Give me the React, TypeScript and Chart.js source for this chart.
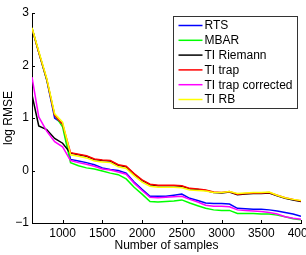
import { useEffect, useRef } from "react";
import { Chart, registerables } from "chart.js";

Chart.register(...registerables);

const samples = [615, 700, 800, 900, 1000, 1100, 1200, 1300, 1400, 1500, 1600, 1700, 1800, 1900, 2000, 2100, 2200, 2300, 2400, 2500, 2600, 2700, 2800, 2900, 3000, 3100, 3200, 3300, 3400, 3500, 3600, 3700, 3800, 3900, 4000];

const rts = [2.71, 2.25, 1.73, 1.0, 0.89, 0.21, 0.18, 0.15, 0.11, 0.05, 0.02, 0.0, -0.05, -0.22, -0.36, -0.49, -0.49, -0.49, -0.47, -0.45, -0.53, -0.57, -0.62, -0.63, -0.63, -0.64, -0.72, -0.73, -0.74, -0.74, -0.75, -0.77, -0.8, -0.83, -0.87];
const mbar = [2.71, 2.25, 1.73, 1.06, 0.83, 0.15, 0.09, 0.05, 0.03, -0.01, -0.05, -0.08, -0.16, -0.32, -0.45, -0.59, -0.6, -0.59, -0.58, -0.56, -0.62, -0.67, -0.72, -0.75, -0.76, -0.76, -0.82, -0.82, -0.82, -0.83, -0.83, -0.85, -0.88, -0.92, -0.94];
const tiRiemann = [1.44, 0.85, 0.78, 0.61, 0.52, 0.33, 0.3, 0.27, 0.21, 0.19, 0.18, 0.1, 0.07, -0.07, -0.19, -0.27, -0.29, -0.29, -0.29, -0.3, -0.35, -0.36, -0.38, -0.42, -0.43, -0.41, -0.46, -0.45, -0.44, -0.44, -0.43, -0.48, -0.53, -0.56, -0.59];
const tiTrap = [2.71, 2.25, 1.74, 1.05, 0.88, 0.34, 0.31, 0.28, 0.22, 0.2, 0.19, 0.11, 0.08, -0.06, -0.18, -0.26, -0.28, -0.28, -0.28, -0.29, -0.34, -0.35, -0.37, -0.41, -0.42, -0.4, -0.45, -0.44, -0.43, -0.43, -0.42, -0.47, -0.52, -0.55, -0.58];
const tiTrapCorrected = [1.78, 1.02, 0.75, 0.55, 0.45, 0.19, 0.15, 0.12, 0.08, 0.03, 0.01, -0.03, -0.07, -0.24, -0.38, -0.51, -0.52, -0.51, -0.5, -0.49, -0.55, -0.6, -0.66, -0.68, -0.68, -0.69, -0.75, -0.76, -0.77, -0.78, -0.8, -0.83, -0.88, -0.91, -0.93];
const tiRB = [2.72, 2.27, 1.76, 1.08, 0.92, 0.3, 0.27, 0.24, 0.18, 0.16, 0.15, 0.07, 0.04, -0.1, -0.22, -0.3, -0.32, -0.32, -0.32, -0.33, -0.37, -0.38, -0.39, -0.42, -0.42, -0.4, -0.44, -0.43, -0.42, -0.42, -0.41, -0.47, -0.52, -0.55, -0.57];

const seriesLabels = ["RTS", "MBAR", "TI Riemann", "TI trap", "TI trap corrected", "TI RB"];
const seriesValues = [rts, mbar, tiRiemann, tiTrap, tiTrapCorrected, tiRB];
const seriesColors = ["#0000ff", "#00ff00", "#000000", "#ff0000", "#ff00ff", "#ffff00"];

const xTicks = [1000, 1500, 2000, 2500, 3000, 3500, 4000];
const yTicks = [-1, 0, 1, 2, 3];
const xTitle = "Number of samples";
const yTitle = "log RMSE";

const FONT_FAMILY = "'Liberation Sans', Arial, Helvetica, sans-serif";

const inwardTicks = {
  id: "inwardTicks",
  afterDraw(chart: any) {
    const ctx = chart.ctx;
    const ca = chart.chartArea;
    const xs = chart.scales.x;
    const ys = chart.scales.y;
    ctx.save();
    ctx.strokeStyle = "#000";
    ctx.lineWidth = 1;
    ctx.beginPath();
    xs.ticks.forEach((t: any) => {
      const px = Math.round(xs.getPixelForValue(t.value)) + 0.5;
      ctx.moveTo(px, ca.bottom);
      ctx.lineTo(px, ca.bottom - 3);
    });
    ys.ticks.forEach((t: any) => {
      const py = Math.round(ys.getPixelForValue(t.value)) + 0.5;
      ctx.moveTo(ca.left, py);
      ctx.lineTo(ca.left + 3, py);
    });
    ctx.stroke();
    ctx.restore();
  },
};

const boxLegend = {
  id: "boxLegend",
  afterDraw(chart: any) {
    const ctx = chart.ctx;
    const ca = chart.chartArea;
    const w = 124;
    const h = 92;
    const x0 = Math.round(ca.right - 128) + 0.5;
    const y0 = Math.round(ca.top + 3) + 0.5;
    ctx.save();
    ctx.fillStyle = "#fff";
    ctx.fillRect(x0, y0, w, h);
    ctx.strokeStyle = "#333";
    ctx.lineWidth = 1;
    ctx.strokeRect(x0, y0, w, h);
    ctx.font = `12px ${FONT_FAMILY}`;
    ctx.textBaseline = "middle";
    ctx.textAlign = "left";
    chart.data.datasets.forEach((ds: any, i: number) => {
      const y = y0 + 9 + i * 14.8;
      ctx.strokeStyle = ds.borderColor;
      ctx.lineWidth = 1.5;
      ctx.beginPath();
      ctx.moveTo(x0 + 5, y);
      ctx.lineTo(x0 + 29, y);
      ctx.stroke();
      ctx.fillStyle = "#000";
      ctx.fillText(ds.label, x0 + 31, y + 0.5);
    });
    ctx.restore();
  },
};

export default function App() {
  const canvasRef = useRef<HTMLCanvasElement | null>(null);

  useEffect(() => {
    if (!canvasRef.current) return;
    const chart = new Chart(canvasRef.current, {
      type: "line",
      data: {
        datasets: seriesLabels.map((label, i) => ({
          label,
          data: samples.map((s, j) => ({ x: s, y: seriesValues[i][j] })),
          borderColor: seriesColors[i],
          backgroundColor: seriesColors[i],
          borderWidth: 1.5,
          pointRadius: 0,
          tension: 0,
          fill: false,
          order: seriesLabels.length - i,
        })),
      },
      options: {
        responsive: false,
        animation: false,
        devicePixelRatio: 1,
        layout: { padding: { left: 0, top: 13, right: 29, bottom: 0 } },
        plugins: {
          legend: { display: false },
          tooltip: { enabled: false },
        },
        scales: {
          x: {
            type: "linear",
            min: 615,
            max: 4000,
            afterBuildTicks: (scale: any) => {
              scale.ticks = xTicks.map((v) => ({ value: v }));
            },
            afterFit: (scale: any) => {
              scale.height = 32;
            },
            grid: { display: false, drawTicks: false },
            border: { display: true, color: "#000", width: 1 },
            ticks: {
              color: "#000",
              padding: 3,
              maxRotation: 0,
              font: { family: FONT_FAMILY, size: 12 },
              callback: (v: any) => String(v),
            },
            title: {
              display: true,
              text: xTitle,
              color: "#000",
              padding: { top: 0, bottom: 2 },
              font: { family: FONT_FAMILY, size: 12 },
            },
          },
          y: {
            type: "linear",
            min: -1,
            max: 3,
            afterBuildTicks: (scale: any) => {
              scale.ticks = yTicks.map((v) => ({ value: v }));
            },
            afterFit: (scale: any) => {
              scale.width = 32;
            },
            grid: { display: false, drawTicks: false },
            border: { display: true, color: "#000", width: 1 },
            ticks: {
              color: "#000",
              padding: 3,
              font: { family: FONT_FAMILY, size: 12 },
              callback: (v: any) => (Number(v) < 0 ? "\u2212" + Math.abs(Number(v)) : String(v)),
            },
            title: {
              display: true,
              text: yTitle,
              color: "#000",
              padding: { top: 1, bottom: 0 },
              font: { family: FONT_FAMILY, size: 12 },
            },
          },
        },
      },
      plugins: [inwardTicks, boxLegend],
    });
    return () => chart.destroy();
  }, []);

  return (
    <div style={{ position: "fixed", left: 0, top: 0, width: 330, height: 255, background: "#fff" }}>
      <canvas ref={canvasRef} width={330} height={255} style={{ display: "block" }} />
    </div>
  );
}
